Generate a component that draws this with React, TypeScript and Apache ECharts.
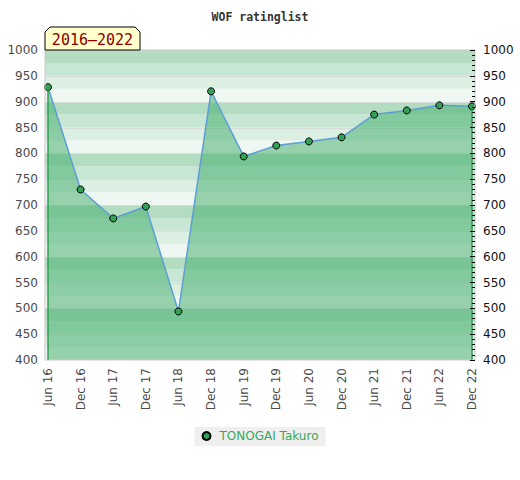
import React, { useEffect, useRef } from "react";
import * as echarts from "echarts";

const categories = ["Jun 16", "Dec 16", "Jun 17", "Dec 17", "Jun 18", "Dec 18", "Jun 19", "Dec 19", "Jun 20", "Dec 20", "Jun 21", "Dec 21", "Jun 22", "Dec 22"];
const ratings = [928, 730, 674, 697, 494, 920, 794, 815, 823, 831, 875, 883, 893, 891];
const seriesName = "TONOGAI Takuro";
const titleText = "WOF ratinglist";
const periodText = "2016\u20132022";
const yMin = 400;
const yMax = 1000;
const yStep = 50;
const bandStep = 25;
const bandColors = ["#b4dcc1", "#c8e6d4", "#dcefe3", "#eef7f1"];

const bands: number[][] = [];
for (let v = yMin; v < yMax; v += bandStep) {
  const k = Math.round((v - yMin) / bandStep) % 4;
  bands.push([v, v + bandStep, 3 - k]);
}

export default function App() {
  const ref = useRef<HTMLDivElement>(null);
  useEffect(() => {
    if (!ref.current) return;
    const chart = echarts.init(ref.current, null, { renderer: "svg" });
    const axisFont = { fontFamily: "DejaVu Sans", fontSize: 12 };
    const plain = (v: number) => String(v);
    chart.setOption({
      animation: false,
      backgroundColor: "#ffffff",
      title: {
        text: titleText,
        left: "center",
        top: 6,
        textStyle: { fontFamily: "DejaVu Sans Mono", fontWeight: "bold", fontSize: 11.5, color: "#333" },
      },
      legend: {
        data: [{ name: seriesName, icon: "circle" }],
        top: 427,
        left: "center",
        backgroundColor: "#efefef",
        padding: [3, 7, 4, 7],
        itemWidth: 8,
        itemHeight: 8,
        textStyle: { color: "#3aa55b", fontFamily: "DejaVu Sans", fontSize: 12, padding: [0, 0, 0, 4] },
      },
      grid: [
        { left: 45, right: 45, top: 50, bottom: 120, show: true, z: 10, backgroundColor: "transparent", borderColor: "#c8c8c8", borderWidth: 1 },
        { left: 48, right: 48, top: 50, bottom: 120 },
      ],
      xAxis: [
        { gridIndex: 0, type: "value", min: 0, max: 1, show: false },
        {
          gridIndex: 1,
          type: "category",
          data: categories,
          boundaryGap: false,
          axisLine: { show: false },
          axisTick: { show: false },
          splitLine: { show: false },
          axisLabel: { rotate: 90, margin: 8, color: "#4a4a4a", interval: 0, ...axisFont },
        },
      ],
      yAxis: [
        {
          gridIndex: 0,
          type: "value",
          position: "left",
          min: yMin,
          max: yMax,
          interval: yStep,
          z: 10,
          axisLine: { show: false },
          axisTick: { show: false },
          splitLine: { show: false },
          axisLabel: { margin: 7, color: "#4a4a4a", formatter: plain, ...axisFont },
        },
        {
          gridIndex: 0,
          type: "value",
          position: "right",
          min: yMin,
          max: yMax,
          interval: yStep,
          z: 10,
          axisLine: { show: false },
          axisTick: { show: true, inside: true, length: 5, lineStyle: { color: "#000", width: 1 } },
          minorTick: { show: true, splitNumber: 5, length: 3, lineStyle: { color: "#000", width: 1 } },
          splitLine: { show: false },
          axisLabel: { margin: 8, color: "#111", formatter: plain, ...axisFont },
        },
        { gridIndex: 1, type: "value", min: yMin, max: yMax, show: false },
      ],
      series: [
        {
          type: "custom",
          xAxisIndex: 0,
          yAxisIndex: 0,
          z: 1,
          silent: true,
          data: bands,
          renderItem: (params: any, api: any) => {
            const lo = api.value(0);
            const hi = api.value(1);
            const idx = api.value(2);
            const top = api.coord([0, hi])[1];
            const bottom = api.coord([0, lo])[1];
            const cs = params.coordSys;
            const children: any[] = [
              { type: "rect", shape: { x: cs.x, y: top, width: cs.width, height: bottom - top }, style: { fill: bandColors[idx] } },
            ];
            if (hi % yStep === 0 && hi < yMax) {
              children.push({
                type: "line",
                shape: { x1: cs.x, y1: Math.round(top) + 0.5, x2: cs.x + cs.width, y2: Math.round(top) + 0.5 },
                style: { stroke: "#d6dcd8", lineWidth: 1 },
              });
            }
            return { type: "group", children };
          },
        },
        {
          name: seriesName,
          type: "line",
          xAxisIndex: 1,
          yAxisIndex: 2,
          z: 3,
          data: ratings,
          symbol: "circle",
          symbolSize: 7,
          itemStyle: { color: "#33a055", borderColor: "#000", borderWidth: 1 },
          lineStyle: { color: "#5b9fd6", width: 1.5 },
          areaStyle: { color: "rgba(62,172,104,0.5)", opacity: 1, origin: "start" },
          markLine: {
            silent: true,
            symbol: "none",
            label: { show: false },
            lineStyle: { color: "#2e9e55", width: 1.5, type: "solid" },
            data: [
              [{ coord: [categories[0], ratings[0]] }, { coord: [categories[0], yMin] }],
              [{ coord: [categories[categories.length - 1], ratings[ratings.length - 1]] }, { coord: [categories[categories.length - 1], yMin] }],
            ],
          },
        },
      ],
      graphic: [
        {
          type: "polygon",
          z: 20,
          shape: { points: [[45, 50], [45, 32], [50, 27], [135, 27], [140, 32], [140, 50]] },
          style: { fill: "#ffffcc", stroke: "#000", lineWidth: 1 },
        },
        {
          type: "text",
          z: 21,
          x: 92.5,
          y: 39.5,
          style: {
            text: periodText,
            fill: "#8b0000",
            font: "15px 'DejaVu Sans Mono'",
            textAlign: "center",
            textVerticalAlign: "middle",
          },
        },
      ],
    });
    return () => chart.dispose();
  }, []);
  return <div ref={ref} style={{ position: "fixed", left: 0, top: 0, width: 520, height: 480 }} />;
}
